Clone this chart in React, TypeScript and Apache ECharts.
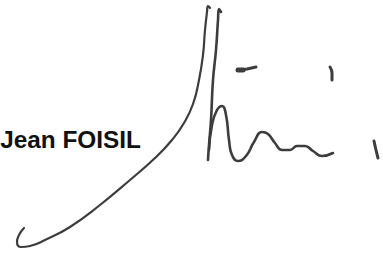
import React, { useEffect, useRef } from "react";
import * as echarts from "echarts";

// Signature strokes, as [x, y] points in image coordinates (y downward)
const longCurve: number[][] = [
  [24, 228], [19, 235], [17, 242], [21, 247], [30, 246], [45, 240], [70, 227],
  [100, 205], [130, 180], [155, 158], [172, 140], [184, 123], [193, 104],
  [199, 80], [203, 55], [205, 30], [207, 12], [208, 6], [210, 8],
];
const stem: number[][] = [
  [221, 12], [219, 9], [218, 20], [216, 50], [213, 80], [211, 120], [209, 145], [208, 160],
];
const arch: number[][] = [
  [209, 150], [212, 125], [217, 110], [222, 106], [226, 115], [229, 140], [232, 155],
  [238, 161], [246, 156], [254, 142], [262, 132], [268, 134], [275, 143], [282, 150],
  [290, 150], [297, 146], [305, 146], [313, 151], [322, 156], [333, 153],
];
const dash: number[][] = [[238, 70], [247, 69], [256, 67]];
const dashBlob: number[][] = [[238, 70], [243, 70]];
const comma: number[][] = [[330, 67], [332, 73], [332, 80]];
const tick: number[][] = [[374, 141], [376, 150], [378, 158]];

const nameFirst = "Jean";
const nameLast = "FOISIL";

const INK = "#3d3d3d";

export default function App() {
  const ref = useRef<HTMLDivElement>(null);
  useEffect(() => {
    if (!ref.current) return;
    const chart = echarts.init(ref.current, undefined, { renderer: "svg" });
    const mk = (data: number[][], width: number, smooth: number | boolean = 0.5) => ({
      type: "line",
      data,
      smooth,
      symbol: "none",
      silent: true,
      clip: false,
      lineStyle: { width, color: INK, cap: "round", join: "round" },
    });
    chart.setOption({
      animation: false,
      backgroundColor: "#ffffff",
      grid: { left: 0, right: 0, top: 0, bottom: 0 },
      xAxis: { type: "value", min: 0, max: 383, show: false },
      yAxis: { type: "value", min: 0, max: 254, inverse: true, show: false },
      series: [
        mk(longCurve, 2.2),
        mk(stem, 2.6),
        mk(arch, 2.6),
        mk(dash, 3, false),
        mk(dashBlob, 5, false),
        mk(comma, 3),
        mk(tick, 3),
      ],
      graphic: [
        {
          type: "text",
          x: 141,
          y: 152,
          scaleX: 1.06,
          style: {
            text: nameFirst + " " + nameLast,
            fill: "#111111",
            font: 'bold 23px "Liberation Sans", Arial, sans-serif',
            align: "right",
            verticalAlign: "bottom",
          },
        },
      ],
    });
    return () => chart.dispose();
  }, []);
  return (
    <div
      ref={ref}
      style={{ position: "absolute", left: 0, top: 0, width: 383, height: 254 }}
    />
  );
}
